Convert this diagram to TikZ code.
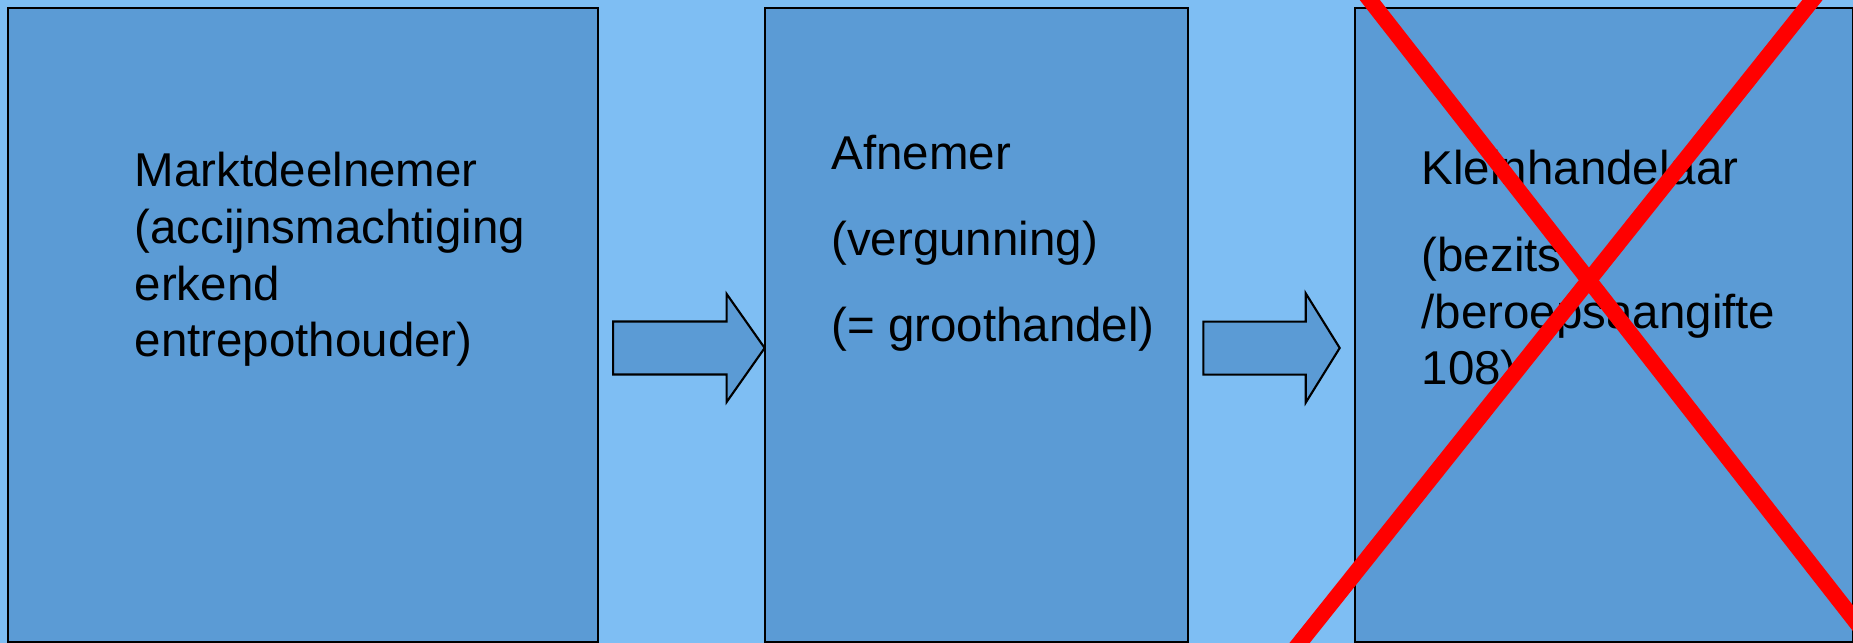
\documentclass[tikz,border=0pt]{standalone}
\usepackage{fontspec}
\setmainfont{Liberation Sans}
\usepackage{tikz}
\usetikzlibrary{positioning,calc}
\usepackage{xcolor}
\definecolor{bgblue}{RGB}{126,190,243}
\definecolor{boxblue}{RGB}{91,155,213}
\definecolor{crossred}{RGB}{255,0,0}

\begin{document}
\begin{tikzpicture}[
    x=0.01cm, y=-0.01cm,
    box/.style={rectangle, draw=black, line width=0.5pt, fill=boxblue, minimum height=6.34cm, outer sep=0pt, inner sep=0pt},
    boxtext/.style={anchor=base west, align=left, inner sep=0pt, font=\fontsize{13.5}{16.2}\selectfont},
    blockarrow/.style={draw=black, line width=0.6pt, fill=boxblue, line join=miter},
    redcross/.style={draw=crossred, line width=4.5pt},
    node distance=1.667cm
]
    % Background
    \clip (0,0) rectangle (1853,643);
    \fill[bgblue] (0,0) rectangle (1853,643);

    % Boxes
    \node[box, minimum width=5.892cm] (b1) at (303.1,325) {};
    \node[box, minimum width=4.23cm, right=of b1] (b2) {};
    \node[box, minimum width=4.98cm, right=of b2] (b3) {};

    % Arrows
    \draw[blockarrow] ($(b2.west)+(0,23)$) -- ++(-38,-54) -- ++(0,27.5) -- ++(-113.5,0)
        -- ++(0,53) -- ++(113.5,0) -- ++(0,27.5) -- cycle;
    \draw[blockarrow] ($(b3.west)+(-15,23)$) -- ++(-34,-54.7) -- ++(0,28.4) -- ++(-102.3,0)
        -- ++(0,53) -- ++(102.3,0) -- ++(0,28) -- cycle;

    % Labels (anchored at the last baseline)
    \node[boxtext] (t1) at (134,357) {Marktdeelnemer\\(accijnsmachtiging\\erkend\\entrepothouder)};
    \node[boxtext] (t2) at (830.7,342) {Afnemer\\[8.3pt](vergunning)\\[8.3pt](= groothandel)};
    \node[boxtext] (t3) at (1421,385) {Kleinhandelaar\\[8.3pt](bezits\\/beroepsaangifte\\108)};

    % Cross
    \draw[redcross] (1362,-10) -- (1870,640);
    \draw[redcross] (1294,650) -- (1822,-12);
\end{tikzpicture}
\end{document}
